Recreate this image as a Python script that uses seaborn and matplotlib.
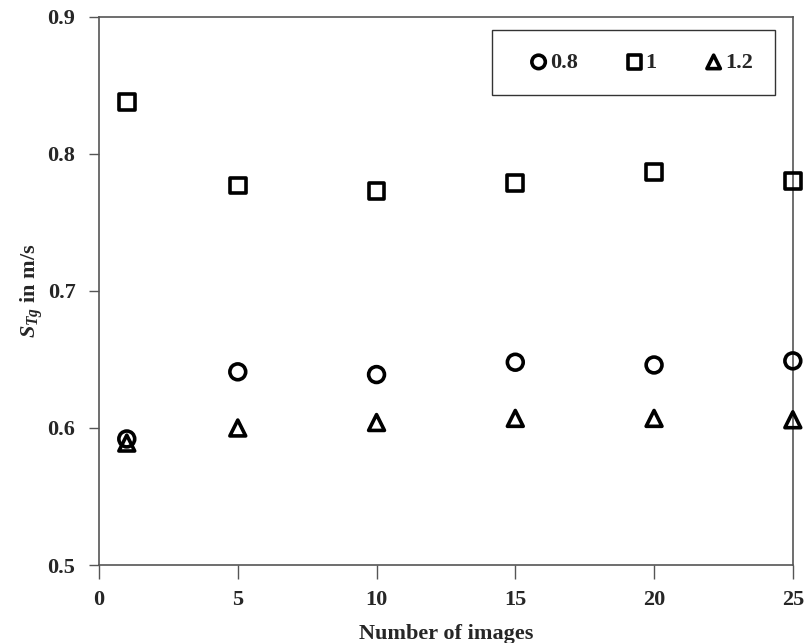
import numpy as np
import pandas as pd
import matplotlib
matplotlib.use("Agg")
import matplotlib.pyplot as plt
import seaborn as sns

# data
n_images = [1, 5, 10, 15, 20, 25]
s_08 = [0.592, 0.641, 0.639, 0.648, 0.646, 0.649]
s_10 = [0.838, 0.777, 0.773, 0.779, 0.787, 0.780]
s_12 = [0.589, 0.600, 0.604, 0.607, 0.607, 0.606]
labels = ["0.8", "1", "1.2"]
markers = ["o", "s", "^"]

sns.set_style("ticks")
plt.rcParams["font.family"] = ["Liberation Serif", "DejaVu Serif"]
plt.rcParams["font.weight"] = "bold"
plt.rcParams["mathtext.fontset"] = "custom"
plt.rcParams["mathtext.rm"] = "Liberation Serif:bold"
plt.rcParams["mathtext.it"] = "Liberation Serif:italic:bold"
plt.rcParams["mathtext.bf"] = "Liberation Serif:bold"

df = pd.DataFrame({
    "images": n_images * 3,
    "S": s_08 + s_10 + s_12,
    "ratio": np.repeat(labels, len(n_images)),
})

fig = plt.figure(figsize=(8.09, 6.43), dpi=100)
ax = fig.add_axes([0.1224, 0.1213, 0.8576, 0.8523])

for lab, mk in zip(labels, markers):
    sub = df[df["ratio"] == lab]
    sns.scatterplot(data=sub, x="images", y="S", marker=mk, s=130,
                    facecolor="none", edgecolor="black", linewidth=2.6,
                    label=lab, ax=ax, clip_on=False, zorder=3)

ax.set_xlim(0, 25)
ax.set_ylim(0.5, 0.9)
ax.set_xticks([0, 5, 10, 15, 20, 25])
ax.set_yticks([0.5, 0.6, 0.7, 0.8, 0.9])
ax.set_yticklabels(["0.5", "0.6", "0.7", "0.8", "0.9"])
ax.tick_params(axis="both", direction="out", labelsize=16, width=1, color="#555555")
ax.tick_params(axis="x", length=10, pad=8)
ax.tick_params(axis="y", length=7, pad=10)
for sp in ax.spines.values():
    sp.set_visible(True)
    sp.set_color("#555555")
    sp.set_linewidth(1.2)

ax.set_xlabel("Number of images", fontsize=16, fontweight="bold", labelpad=10)
ax.set_ylabel(r"$S_{Tg}$ in m/s", fontsize=16, fontweight="bold", labelpad=2)

leg = ax.legend(loc="upper left", bbox_to_anchor=(0.5663, 0.85, 0.4078, 0.1263),
                mode="expand", ncol=3,
                fontsize=16, frameon=True, fancybox=False, edgecolor="black",
                borderaxespad=0, handletextpad=-0.6,
                borderpad=1.0, markerscale=0.85, handlelength=2.2)
leg.get_frame().set_linewidth(1.0)

fig.savefig("out.png", dpi=100)
